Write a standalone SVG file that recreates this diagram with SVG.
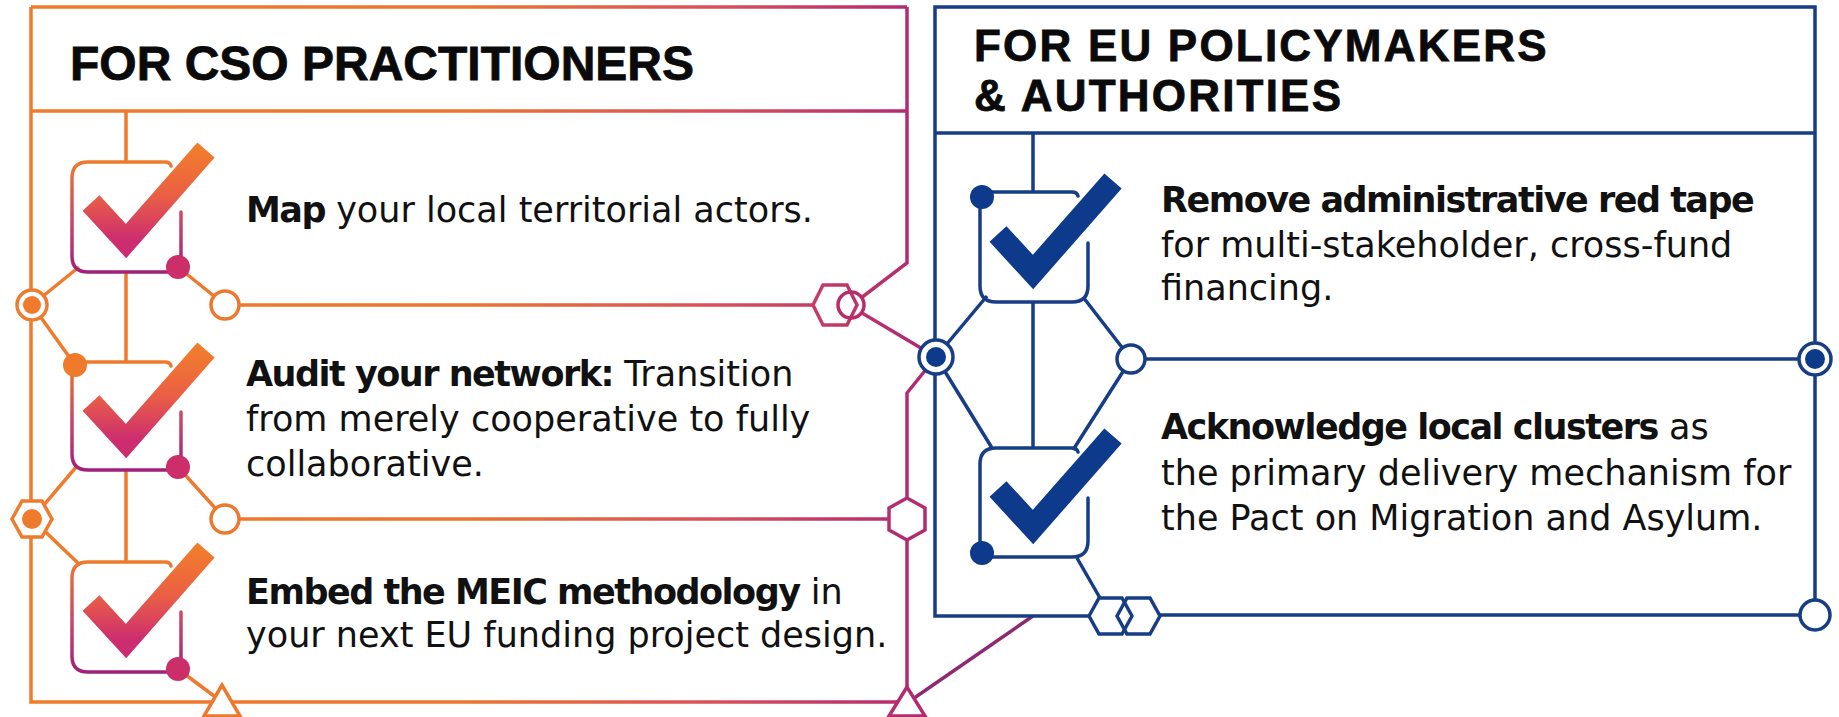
<svg xmlns="http://www.w3.org/2000/svg" width="1839" height="717" viewBox="0 0 1839 717">
<defs>
  <linearGradient id="gLeft" gradientUnits="userSpaceOnUse" x1="31" y1="0" x2="907" y2="0">
    <stop offset="0" stop-color="#EF7B2C"/>
    <stop offset="0.5" stop-color="#EC7530"/>
    <stop offset="0.78" stop-color="#D9505A"/>
    <stop offset="1" stop-color="#B22B70"/>
  </linearGradient>
  <linearGradient id="gBox" x1="0" y1="0" x2="0" y2="1">
    <stop offset="0" stop-color="#EE7A2E"/>
    <stop offset="0.55" stop-color="#C8446A"/>
    <stop offset="1" stop-color="#A0217A"/>
  </linearGradient>
  <linearGradient id="gCheck" x1="0" y1="0" x2="0" y2="1">
    <stop offset="0" stop-color="#F17C2C"/>
    <stop offset="0.5" stop-color="#EA5F45"/>
    <stop offset="1" stop-color="#CC2C70"/>
  </linearGradient>
  <polyline id="check" points="-35,-38 0,0 80,-91"/>
</defs>
<style>
  .lo{fill:none;stroke:url(#gLeft);stroke-width:3.5}
  .pu{fill:none;stroke:#8E2A72;stroke-width:3.5}
  .bl{fill:none;stroke:#163D86;stroke-width:3.5}
  .box{fill:none;stroke:url(#gBox);stroke-width:3.5;stroke-linecap:round}
  .bbox{fill:none;stroke:#163D86;stroke-width:3.5;stroke-linecap:round}
  .chk{fill:none;stroke:url(#gCheck);stroke-width:23;stroke-linejoin:miter}
  .chkb{fill:none;stroke:#0E3A8C;stroke-width:23;stroke-linejoin:miter}
  .wo{fill:#fff;stroke:url(#gLeft);stroke-width:3.5}
  .wb{fill:#fff;stroke:#163D86;stroke-width:3.5}
  .dotm{fill:#CC2E6A}
  .doto{fill:#EF7A2C}
  .dotb{fill:#0E3A8C}
  .hd{font-family:"Liberation Sans",Arial,sans-serif;font-weight:bold;font-size:48px;fill:#0a0a0a;stroke:#0a0a0a;stroke-width:0.8}
  .hd2{font-size:44px;letter-spacing:2.2px}
  .tx{font-family:"DejaVu Sans","Open Sans",sans-serif;font-size:35px;fill:#111}
  .b{font-weight:bold;letter-spacing:-1.5px}
</style>
<rect width="1839" height="717" fill="#fff"/>

<g id="connectors">
  <!-- left panel frame and links -->
  <path class="lo" d="M31 7 H907 M31 111 H907 M31 7 V702 H907"/>
  <path class="lo" d="M907 7 V263 L861 298 M862 313 L936 357 L907 393 V703"/>
  <path class="lo" d="M126 111 V162 M126 272 V362 M126 470 V562"/>
  <path class="lo" d="M225 305 H813 M225 519 H889"/>
  <path class="lo" d="M32 305 L79 267 M32 305 L75 365 M77 466 L32 519 M32 519 L80 565 M178 267 L225 305 M178 467 L225 519 M178 669 L222 702"/>
  <path class="pu" d="M907 703 L1033 616"/>
  <!-- right panel frame and links -->
  <path class="bl" d="M1089 616 H935 V7 H1815 V615 H1160 M935 133 H1815"/>
  <path class="bl" d="M1033 133 V192 M1033 302 V448"/>
  <path class="bl" d="M936 357 L987 296 M1083 297 L1131 359 M936 357 L992 448 M1131 359 L1073 450 M1077 558 L1100 598 M1131 359 H1815"/>
</g>

<g id="junctions">
  <circle class="wo" cx="32" cy="305" r="15"/>
  <circle class="doto" cx="32" cy="305" r="9"/>
  <polygon class="wo" points="12,519 22,501 42,501 52,519 42,537 22,537"/>
  <circle class="doto" cx="32" cy="519" r="10"/>
  <circle class="wo" cx="225" cy="305" r="14"/>
  <circle class="wo" cx="225" cy="519" r="14"/>
  <polygon class="wo" points="222,685 204,716 240,716"/>
  <polygon class="wo" points="813,305 823,285 847,285 857,305 847,325 823,325"/>
  <circle cx="851" cy="305" r="13" fill="none" stroke="#B82C6C" stroke-width="3.5"/>
  <polygon class="wo" points="907,498 925,508 925,530 907,540 889,530 889,508"/>
  <polygon class="wo" points="907,687 889,716 925,716"/>
  <circle class="wb" cx="936" cy="357" r="17"/>
  <circle class="dotb" cx="936" cy="357" r="10"/>
  <circle class="wb" cx="1131" cy="359" r="14"/>
  <circle class="wb" cx="1815" cy="359" r="16"/>
  <circle class="dotb" cx="1815" cy="359" r="10"/>
  <circle class="wb" cx="1815" cy="615" r="15"/>
  <polygon class="bl" points="1089,616 1099,598 1122,598 1132,616 1122,634 1099,634"/>
  <polygon class="bl" points="1117,616 1127,598 1150,598 1160,616 1150,634 1127,634"/>
</g>

<g id="cso-header">
  <text class="hd" x="70" y="80">FOR CSO PRACTITIONERS</text>
</g>
<g id="eu-header">
  <text class="hd hd2" x="974" y="61">FOR EU POLICYMAKERS</text>
  <text class="hd hd2" x="974" y="111">&amp; AUTHORITIES</text>
</g>

<g id="cso-item-1">
  <path class="box" d="M171 166 Q170 162 165 162 H88 Q72 162 72 178 V256 Q72 272 88 272 H170 M181 212 V262"/>
  <circle class="dotm" cx="178" cy="267" r="12"/>
  <use href="#check" class="chk" transform="translate(126,241)"/>
  <text class="tx" x="246" y="222"><tspan class="b">Map</tspan> your local territorial actors.</text>
</g>

<g id="cso-item-2">
  <path class="box" d="M75 362 H165 Q170 362 171 366 M72 365 V454 Q72 470 88 470 H170 M181 412 V462"/>
  <circle class="doto" cx="75" cy="365" r="12"/>
  <circle class="dotm" cx="178" cy="467" r="12"/>
  <use href="#check" class="chk" transform="translate(126,441)"/>
  <text class="tx" x="246" y="386"><tspan class="b">Audit your network:</tspan> Transition</text>
  <text class="tx" x="246" y="431">from merely cooperative to fully</text>
  <text class="tx" x="246" y="476">collaborative.</text>
</g>

<g id="cso-item-3">
  <path class="box" d="M171 566 Q170 562 165 562 H88 Q72 562 72 578 V656 Q72 672 88 672 H170 M181 612 V664"/>
  <circle class="dotm" cx="178" cy="669" r="12"/>
  <use href="#check" class="chk" transform="translate(126,641)"/>
  <text class="tx" x="246" y="604"><tspan class="b">Embed the MEIC methodology</tspan> in</text>
  <text class="tx" x="246" y="647">your next EU funding project design.</text>
</g>

<g id="eu-item-1">
  <path class="bbox" d="M982 192 H1072 Q1077 192 1078 196 M980 197 V286 Q980 302 996 302 H1072 Q1088 302 1088 286 V243"/>
  <circle class="dotb" cx="982" cy="197" r="12"/>
  <use href="#check" class="chkb" transform="translate(1033,272)"/>
  <text class="tx" x="1161" y="212"><tspan class="b">Remove administrative red tape</tspan></text>
  <text class="tx" x="1161" y="257">for multi-stakeholder, cross-fund</text>
  <text class="tx" x="1161" y="300">financing.</text>
</g>

<g id="eu-item-2">
  <path class="bbox" d="M1088 498 V541 Q1088 557 1072 557 H982 M980 553 V464 Q980 448 996 448 H1072 Q1077 448 1078 452"/>
  <circle class="dotb" cx="982" cy="553" r="12"/>
  <use href="#check" class="chkb" transform="translate(1033,527)"/>
  <text class="tx" x="1161" y="439"><tspan class="b">Acknowledge local clusters</tspan> as</text>
  <text class="tx" x="1161" y="485">the primary delivery mechanism for</text>
  <text class="tx" x="1161" y="530">the Pact on Migration and Asylum.</text>
</g>
</svg>
